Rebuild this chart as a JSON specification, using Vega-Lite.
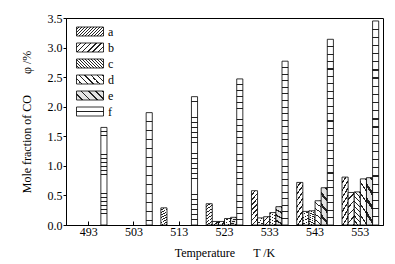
{
  "$schema": "https://vega.github.io/schema/vega-lite/v6.json",
  "width": 317,
  "height": 207,
  "autosize": "none",
  "padding": {"left": 66, "top": 18, "right": 12, "bottom": 39},
  "background": "white",
  "config": {
    "view": {"stroke": "black", "strokeWidth": 1},
    "font": "Liberation Serif",
    "axis": {
      "domainColor": "black", "tickColor": "black", "labelColor": "black", "titleColor": "black",
      "labelFont": "Liberation Serif", "titleFont": "Liberation Serif",
      "labelFontSize": 12, "titleFontSize": 12, "titleFontWeight": "normal",
      "grid": false, "domainWidth": 1, "tickWidth": 1
    },
    "legend": {
      "labelFont": "Liberation Serif", "labelFontSize": 12, "labelColor": "black"
    }
  },
  "data": {
    "values": [
      {"T": "493", "s": "f", "v": 1.65},
      {"T": "503", "s": "f", "v": 1.90},
      {"T": "513", "s": "a", "v": 0.29},
      {"T": "513", "s": "f", "v": 2.17},
      {"T": "523", "s": "a", "v": 0.36},
      {"T": "523", "s": "b", "v": 0.06},
      {"T": "523", "s": "c", "v": 0.06},
      {"T": "523", "s": "d", "v": 0.11},
      {"T": "523", "s": "e", "v": 0.13},
      {"T": "523", "s": "f", "v": 2.47},
      {"T": "533", "s": "a", "v": 0.58},
      {"T": "533", "s": "b", "v": 0.12},
      {"T": "533", "s": "c", "v": 0.14},
      {"T": "533", "s": "d", "v": 0.21},
      {"T": "533", "s": "e", "v": 0.31},
      {"T": "533", "s": "f", "v": 2.77},
      {"T": "543", "s": "a", "v": 0.72},
      {"T": "543", "s": "b", "v": 0.23},
      {"T": "543", "s": "c", "v": 0.24},
      {"T": "543", "s": "d", "v": 0.41},
      {"T": "543", "s": "e", "v": 0.63},
      {"T": "543", "s": "f", "v": 3.14},
      {"T": "553", "s": "a", "v": 0.81},
      {"T": "553", "s": "b", "v": 0.55},
      {"T": "553", "s": "c", "v": 0.56},
      {"T": "553", "s": "d", "v": 0.78},
      {"T": "553", "s": "e", "v": 0.80},
      {"T": "553", "s": "f", "v": 3.45}
    ]
  },
  "encoding": {
    "x": {
      "field": "T", "type": "nominal",
      "scale": {"paddingInner": 0.19, "paddingOuter": 0.095},
      "axis": {"title": "Temperature\u2003\u2002T /K", "labelAngle": 0, "tickSize": -4, "labelPadding": 5, "titlePadding": 10}
    },
    "xOffset": {
      "field": "s", "type": "nominal",
      "scale": {"domain": ["a", "b", "c", "d", "e", "f"], "paddingInner": 0, "paddingOuter": 0}
    },
    "y": {
      "field": "v", "type": "quantitative",
      "scale": {"domain": [0, 3.5], "nice": false},
      "axis": {"title": "Mole fraction of CO\u2003\u2002 \u03c6 /%", "values": [0, 0.5, 1, 1.5, 2, 2.5, 3, 3.5], "format": ".1f", "tickSize": 3, "labelPadding": 1, "titlePadding": 14}
    }
  },
  "layer": [
    {
      "mark": {"type": "bar", "stroke": "black", "strokeWidth": 0.8},
      "encoding": {
        "fill": {
          "condition": [
            {"test": "datum.s === 'a'", "value": {"gradient": "linear", "x1": 0, "y1": 0, "x2": 0.23, "y2": 1.15, "stops": [
              {"offset": 0, "color": "#fff"}, {"offset": 0.0875, "color": "#fff"}, {"offset": 0.0875, "color": "#222"}, {"offset": 0.125, "color": "#222"},
              {"offset": 0.125, "color": "#fff"}, {"offset": 0.2125, "color": "#fff"}, {"offset": 0.2125, "color": "#222"}, {"offset": 0.25, "color": "#222"},
              {"offset": 0.25, "color": "#fff"}, {"offset": 0.3375, "color": "#fff"}, {"offset": 0.3375, "color": "#222"}, {"offset": 0.375, "color": "#222"},
              {"offset": 0.375, "color": "#fff"}, {"offset": 0.4625, "color": "#fff"}, {"offset": 0.4625, "color": "#222"}, {"offset": 0.5, "color": "#222"},
              {"offset": 0.5, "color": "#fff"}, {"offset": 0.5875, "color": "#fff"}, {"offset": 0.5875, "color": "#222"}, {"offset": 0.625, "color": "#222"},
              {"offset": 0.625, "color": "#fff"}, {"offset": 0.7125, "color": "#fff"}, {"offset": 0.7125, "color": "#222"}, {"offset": 0.75, "color": "#222"},
              {"offset": 0.75, "color": "#fff"}, {"offset": 0.8375, "color": "#fff"}, {"offset": 0.8375, "color": "#222"}, {"offset": 0.875, "color": "#222"},
              {"offset": 0.875, "color": "#fff"}, {"offset": 0.9625, "color": "#fff"}, {"offset": 0.9625, "color": "#222"}, {"offset": 1, "color": "#222"}]}},
            {"test": "datum.s === 'b'", "value": {"gradient": "linear", "x1": 0, "y1": 0, "x2": 0.23, "y2": 1.15, "stops": [
              {"offset": 0, "color": "#fff"}, {"offset": 0.16, "color": "#fff"}, {"offset": 0.16, "color": "#222"}, {"offset": 0.2, "color": "#222"},
              {"offset": 0.2, "color": "#fff"}, {"offset": 0.36, "color": "#fff"}, {"offset": 0.36, "color": "#222"}, {"offset": 0.4, "color": "#222"},
              {"offset": 0.4, "color": "#fff"}, {"offset": 0.56, "color": "#fff"}, {"offset": 0.56, "color": "#222"}, {"offset": 0.6, "color": "#222"},
              {"offset": 0.6, "color": "#fff"}, {"offset": 0.76, "color": "#fff"}, {"offset": 0.76, "color": "#222"}, {"offset": 0.8, "color": "#222"},
              {"offset": 0.8, "color": "#fff"}, {"offset": 0.96, "color": "#fff"}, {"offset": 0.96, "color": "#222"}, {"offset": 1, "color": "#222"}]}},
            {"test": "datum.s === 'c'", "value": {"gradient": "linear", "x1": 0, "y1": 1, "x2": 0.23, "y2": -0.15, "stops": [
              {"offset": 0, "color": "#fff"}, {"offset": 0.0875, "color": "#fff"}, {"offset": 0.0875, "color": "#222"}, {"offset": 0.125, "color": "#222"},
              {"offset": 0.125, "color": "#fff"}, {"offset": 0.2125, "color": "#fff"}, {"offset": 0.2125, "color": "#222"}, {"offset": 0.25, "color": "#222"},
              {"offset": 0.25, "color": "#fff"}, {"offset": 0.3375, "color": "#fff"}, {"offset": 0.3375, "color": "#222"}, {"offset": 0.375, "color": "#222"},
              {"offset": 0.375, "color": "#fff"}, {"offset": 0.4625, "color": "#fff"}, {"offset": 0.4625, "color": "#222"}, {"offset": 0.5, "color": "#222"},
              {"offset": 0.5, "color": "#fff"}, {"offset": 0.5875, "color": "#fff"}, {"offset": 0.5875, "color": "#222"}, {"offset": 0.625, "color": "#222"},
              {"offset": 0.625, "color": "#fff"}, {"offset": 0.7125, "color": "#fff"}, {"offset": 0.7125, "color": "#222"}, {"offset": 0.75, "color": "#222"},
              {"offset": 0.75, "color": "#fff"}, {"offset": 0.8375, "color": "#fff"}, {"offset": 0.8375, "color": "#222"}, {"offset": 0.875, "color": "#222"},
              {"offset": 0.875, "color": "#fff"}, {"offset": 0.9625, "color": "#fff"}, {"offset": 0.9625, "color": "#222"}, {"offset": 1, "color": "#222"}]}},
            {"test": "datum.s === 'd'", "value": {"gradient": "linear", "x1": 0, "y1": 1, "x2": 0.23, "y2": -0.15, "stops": [
              {"offset": 0, "color": "#fff"}, {"offset": 0.16, "color": "#fff"}, {"offset": 0.16, "color": "#222"}, {"offset": 0.2, "color": "#222"},
              {"offset": 0.2, "color": "#fff"}, {"offset": 0.36, "color": "#fff"}, {"offset": 0.36, "color": "#222"}, {"offset": 0.4, "color": "#222"},
              {"offset": 0.4, "color": "#fff"}, {"offset": 0.56, "color": "#fff"}, {"offset": 0.56, "color": "#222"}, {"offset": 0.6, "color": "#222"},
              {"offset": 0.6, "color": "#fff"}, {"offset": 0.76, "color": "#fff"}, {"offset": 0.76, "color": "#222"}, {"offset": 0.8, "color": "#222"},
              {"offset": 0.8, "color": "#fff"}, {"offset": 0.96, "color": "#fff"}, {"offset": 0.96, "color": "#222"}, {"offset": 1, "color": "#222"}]}},
            {"test": "datum.s === 'e'", "value": {"gradient": "linear", "x1": 0, "y1": 1, "x2": 0.23, "y2": -0.15, "stops": [
              {"offset": 0, "color": "#e4e4e4"}, {"offset": 0.175, "color": "#e4e4e4"}, {"offset": 0.175, "color": "#222"}, {"offset": 0.25, "color": "#222"},
              {"offset": 0.25, "color": "#e4e4e4"}, {"offset": 0.425, "color": "#e4e4e4"}, {"offset": 0.425, "color": "#222"}, {"offset": 0.5, "color": "#222"},
              {"offset": 0.5, "color": "#e4e4e4"}, {"offset": 0.675, "color": "#e4e4e4"}, {"offset": 0.675, "color": "#222"}, {"offset": 0.75, "color": "#222"},
              {"offset": 0.75, "color": "#e4e4e4"}, {"offset": 0.925, "color": "#e4e4e4"}, {"offset": 0.925, "color": "#222"}, {"offset": 1, "color": "#222"}]}}
          ],
          "value": {"gradient": "linear", "x1": 0, "y1": 0, "x2": 0, "y2": 1, "stops": [
            {"offset": 0, "color": "#fff"},
            {"offset": 0.037, "color": "#fff"}, {"offset": 0.037, "color": "#222"}, {"offset": 0.043, "color": "#222"}, {"offset": 0.043, "color": "#fff"},
            {"offset": 0.077, "color": "#fff"}, {"offset": 0.077, "color": "#222"}, {"offset": 0.083, "color": "#222"}, {"offset": 0.083, "color": "#fff"},
            {"offset": 0.117, "color": "#fff"}, {"offset": 0.117, "color": "#222"}, {"offset": 0.123, "color": "#222"}, {"offset": 0.123, "color": "#fff"},
            {"offset": 0.157, "color": "#fff"}, {"offset": 0.157, "color": "#222"}, {"offset": 0.163, "color": "#222"}, {"offset": 0.163, "color": "#fff"},
            {"offset": 0.197, "color": "#fff"}, {"offset": 0.197, "color": "#222"}, {"offset": 0.203, "color": "#222"}, {"offset": 0.203, "color": "#fff"},
            {"offset": 0.237, "color": "#fff"}, {"offset": 0.237, "color": "#222"}, {"offset": 0.243, "color": "#222"}, {"offset": 0.243, "color": "#fff"},
            {"offset": 0.277, "color": "#fff"}, {"offset": 0.277, "color": "#222"}, {"offset": 0.283, "color": "#222"}, {"offset": 0.283, "color": "#fff"},
            {"offset": 0.317, "color": "#fff"}, {"offset": 0.317, "color": "#222"}, {"offset": 0.323, "color": "#222"}, {"offset": 0.323, "color": "#fff"},
            {"offset": 0.357, "color": "#fff"}, {"offset": 0.357, "color": "#222"}, {"offset": 0.363, "color": "#222"}, {"offset": 0.363, "color": "#fff"},
            {"offset": 0.397, "color": "#fff"}, {"offset": 0.397, "color": "#222"}, {"offset": 0.403, "color": "#222"}, {"offset": 0.403, "color": "#fff"},
            {"offset": 0.437, "color": "#fff"}, {"offset": 0.437, "color": "#222"}, {"offset": 0.443, "color": "#222"}, {"offset": 0.443, "color": "#fff"},
            {"offset": 0.477, "color": "#fff"}, {"offset": 0.477, "color": "#222"}, {"offset": 0.483, "color": "#222"}, {"offset": 0.483, "color": "#fff"},
            {"offset": 0.517, "color": "#fff"}, {"offset": 0.517, "color": "#222"}, {"offset": 0.523, "color": "#222"}, {"offset": 0.523, "color": "#fff"},
            {"offset": 0.557, "color": "#fff"}, {"offset": 0.557, "color": "#222"}, {"offset": 0.563, "color": "#222"}, {"offset": 0.563, "color": "#fff"},
            {"offset": 0.597, "color": "#fff"}, {"offset": 0.597, "color": "#222"}, {"offset": 0.603, "color": "#222"}, {"offset": 0.603, "color": "#fff"},
            {"offset": 0.637, "color": "#fff"}, {"offset": 0.637, "color": "#222"}, {"offset": 0.643, "color": "#222"}, {"offset": 0.643, "color": "#fff"},
            {"offset": 0.677, "color": "#fff"}, {"offset": 0.677, "color": "#222"}, {"offset": 0.683, "color": "#222"}, {"offset": 0.683, "color": "#fff"},
            {"offset": 0.717, "color": "#fff"}, {"offset": 0.717, "color": "#222"}, {"offset": 0.723, "color": "#222"}, {"offset": 0.723, "color": "#fff"},
            {"offset": 0.757, "color": "#fff"}, {"offset": 0.757, "color": "#222"}, {"offset": 0.763, "color": "#222"}, {"offset": 0.763, "color": "#fff"},
            {"offset": 0.797, "color": "#fff"}, {"offset": 0.797, "color": "#222"}, {"offset": 0.803, "color": "#222"}, {"offset": 0.803, "color": "#fff"},
            {"offset": 0.837, "color": "#fff"}, {"offset": 0.837, "color": "#222"}, {"offset": 0.843, "color": "#222"}, {"offset": 0.843, "color": "#fff"},
            {"offset": 0.877, "color": "#fff"}, {"offset": 0.877, "color": "#222"}, {"offset": 0.883, "color": "#222"}, {"offset": 0.883, "color": "#fff"},
            {"offset": 0.917, "color": "#fff"}, {"offset": 0.917, "color": "#222"}, {"offset": 0.923, "color": "#222"}, {"offset": 0.923, "color": "#fff"},
            {"offset": 0.957, "color": "#fff"}, {"offset": 0.957, "color": "#222"}, {"offset": 0.963, "color": "#222"}, {"offset": 0.963, "color": "#fff"},
            {"offset": 1, "color": "#fff"}]}
        }
      }
    },
    {
      "mark": {"type": "bar", "fillOpacity": 0, "strokeOpacity": 0},
      "encoding": {
        "fill": {
          "field": "s", "type": "nominal",
          "scale": {
            "domain": ["a", "b", "c", "d", "e", "f"],
            "range": [
              {"expr": "{gradient:'linear',x1:0,y1:0,x2:1.2,y2:0.4,stops:[{offset:0,color:'#fff'},{offset:0.0583,color:'#fff'},{offset:0.0583,color:'#222'},{offset:0.0833,color:'#222'},{offset:0.0833,color:'#fff'},{offset:0.1417,color:'#fff'},{offset:0.1417,color:'#222'},{offset:0.1667,color:'#222'},{offset:0.1667,color:'#fff'},{offset:0.225,color:'#fff'},{offset:0.225,color:'#222'},{offset:0.25,color:'#222'},{offset:0.25,color:'#fff'},{offset:0.3083,color:'#fff'},{offset:0.3083,color:'#222'},{offset:0.3333,color:'#222'},{offset:0.3333,color:'#fff'},{offset:0.3917,color:'#fff'},{offset:0.3917,color:'#222'},{offset:0.4167,color:'#222'},{offset:0.4167,color:'#fff'},{offset:0.475,color:'#fff'},{offset:0.475,color:'#222'},{offset:0.5,color:'#222'},{offset:0.5,color:'#fff'},{offset:0.5583,color:'#fff'},{offset:0.5583,color:'#222'},{offset:0.5833,color:'#222'},{offset:0.5833,color:'#fff'},{offset:0.6417,color:'#fff'},{offset:0.6417,color:'#222'},{offset:0.6667,color:'#222'},{offset:0.6667,color:'#fff'},{offset:0.725,color:'#fff'},{offset:0.725,color:'#222'},{offset:0.75,color:'#222'},{offset:0.75,color:'#fff'},{offset:0.8083,color:'#fff'},{offset:0.8083,color:'#222'},{offset:0.8333,color:'#222'},{offset:0.8333,color:'#fff'},{offset:0.8917,color:'#fff'},{offset:0.8917,color:'#222'},{offset:0.9167,color:'#222'},{offset:0.9167,color:'#fff'},{offset:0.975,color:'#fff'},{offset:0.975,color:'#222'},{offset:1,color:'#222'}]}"},
              {"expr": "{gradient:'linear',x1:0,y1:0,x2:1.2,y2:0.4,stops:[{offset:0,color:'#fff'},{offset:0.1071,color:'#fff'},{offset:0.1071,color:'#222'},{offset:0.1429,color:'#222'},{offset:0.1429,color:'#fff'},{offset:0.25,color:'#fff'},{offset:0.25,color:'#222'},{offset:0.2857,color:'#222'},{offset:0.2857,color:'#fff'},{offset:0.3929,color:'#fff'},{offset:0.3929,color:'#222'},{offset:0.4286,color:'#222'},{offset:0.4286,color:'#fff'},{offset:0.5357,color:'#fff'},{offset:0.5357,color:'#222'},{offset:0.5714,color:'#222'},{offset:0.5714,color:'#fff'},{offset:0.6786,color:'#fff'},{offset:0.6786,color:'#222'},{offset:0.7143,color:'#222'},{offset:0.7143,color:'#fff'},{offset:0.8214,color:'#fff'},{offset:0.8214,color:'#222'},{offset:0.8571,color:'#222'},{offset:0.8571,color:'#fff'},{offset:0.9643,color:'#fff'},{offset:0.9643,color:'#222'},{offset:1,color:'#222'}]}"},
              {"expr": "{gradient:'linear',x1:0,y1:1,x2:1.2,y2:0.6,stops:[{offset:0,color:'#fff'},{offset:0.0583,color:'#fff'},{offset:0.0583,color:'#222'},{offset:0.0833,color:'#222'},{offset:0.0833,color:'#fff'},{offset:0.1417,color:'#fff'},{offset:0.1417,color:'#222'},{offset:0.1667,color:'#222'},{offset:0.1667,color:'#fff'},{offset:0.225,color:'#fff'},{offset:0.225,color:'#222'},{offset:0.25,color:'#222'},{offset:0.25,color:'#fff'},{offset:0.3083,color:'#fff'},{offset:0.3083,color:'#222'},{offset:0.3333,color:'#222'},{offset:0.3333,color:'#fff'},{offset:0.3917,color:'#fff'},{offset:0.3917,color:'#222'},{offset:0.4167,color:'#222'},{offset:0.4167,color:'#fff'},{offset:0.475,color:'#fff'},{offset:0.475,color:'#222'},{offset:0.5,color:'#222'},{offset:0.5,color:'#fff'},{offset:0.5583,color:'#fff'},{offset:0.5583,color:'#222'},{offset:0.5833,color:'#222'},{offset:0.5833,color:'#fff'},{offset:0.6417,color:'#fff'},{offset:0.6417,color:'#222'},{offset:0.6667,color:'#222'},{offset:0.6667,color:'#fff'},{offset:0.725,color:'#fff'},{offset:0.725,color:'#222'},{offset:0.75,color:'#222'},{offset:0.75,color:'#fff'},{offset:0.8083,color:'#fff'},{offset:0.8083,color:'#222'},{offset:0.8333,color:'#222'},{offset:0.8333,color:'#fff'},{offset:0.8917,color:'#fff'},{offset:0.8917,color:'#222'},{offset:0.9167,color:'#222'},{offset:0.9167,color:'#fff'},{offset:0.975,color:'#fff'},{offset:0.975,color:'#222'},{offset:1,color:'#222'}]}"},
              {"expr": "{gradient:'linear',x1:0,y1:1,x2:1.2,y2:0.6,stops:[{offset:0,color:'#fff'},{offset:0.125,color:'#fff'},{offset:0.125,color:'#222'},{offset:0.1667,color:'#222'},{offset:0.1667,color:'#fff'},{offset:0.2917,color:'#fff'},{offset:0.2917,color:'#222'},{offset:0.3333,color:'#222'},{offset:0.3333,color:'#fff'},{offset:0.4583,color:'#fff'},{offset:0.4583,color:'#222'},{offset:0.5,color:'#222'},{offset:0.5,color:'#fff'},{offset:0.625,color:'#fff'},{offset:0.625,color:'#222'},{offset:0.6667,color:'#222'},{offset:0.6667,color:'#fff'},{offset:0.7917,color:'#fff'},{offset:0.7917,color:'#222'},{offset:0.8333,color:'#222'},{offset:0.8333,color:'#fff'},{offset:0.9583,color:'#fff'},{offset:0.9583,color:'#222'},{offset:1,color:'#222'}]}"},
              {"expr": "{gradient:'linear',x1:0,y1:1,x2:1.2,y2:0.6,stops:[{offset:0,color:'#e4e4e4'},{offset:0.15,color:'#e4e4e4'},{offset:0.15,color:'#222'},{offset:0.2,color:'#222'},{offset:0.2,color:'#e4e4e4'},{offset:0.35,color:'#e4e4e4'},{offset:0.35,color:'#222'},{offset:0.4,color:'#222'},{offset:0.4,color:'#e4e4e4'},{offset:0.55,color:'#e4e4e4'},{offset:0.55,color:'#222'},{offset:0.6,color:'#222'},{offset:0.6,color:'#e4e4e4'},{offset:0.75,color:'#e4e4e4'},{offset:0.75,color:'#222'},{offset:0.8,color:'#222'},{offset:0.8,color:'#e4e4e4'},{offset:0.95,color:'#e4e4e4'},{offset:0.95,color:'#222'},{offset:1,color:'#222'}]}"},
              {"expr": "{gradient:'linear',x1:0,y1:0,x2:0,y2:1,stops:[{offset:0,color:'#fff'},{offset:0.45,color:'#fff'},{offset:0.45,color:'#222'},{offset:0.56,color:'#222'},{offset:0.56,color:'#fff'},{offset:1,color:'#fff'}]}"}
            ]
          },
          "legend": {
            "title": null,
            "orient": "none",
            "legendX": 10,
            "legendY": 7,
            "padding": 0,
            "symbolType": "M-1,-0.75H3.5V0.75H-1Z",
            "symbolSize": 144,
            "symbolStrokeColor": "black",
            "symbolStrokeWidth": 0.8,
            "labelOffset": 19,
            "rowPadding": 3,
            "encode": {
              "symbols": {
                "update": {
                  "opacity": {"value": 1},
                  "fillOpacity": {"value": 1},
                  "strokeOpacity": {"value": 1},
                  "stroke": {"value": "black"}
                }
              }
            }
          }
        }
      }
    }
  ]
}
